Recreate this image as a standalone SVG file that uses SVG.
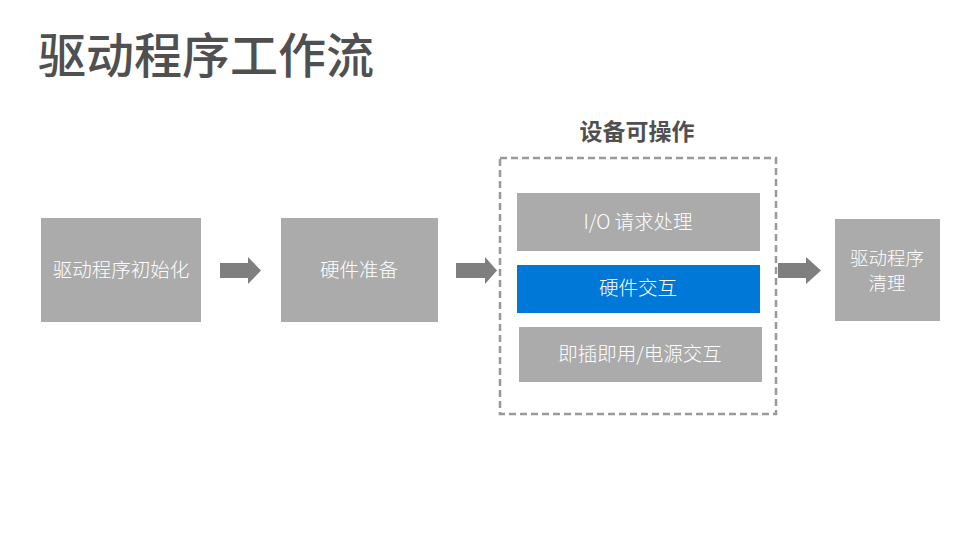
<svg xmlns="http://www.w3.org/2000/svg" width="979" height="551" viewBox="0 0 979 551">
<style>
.box{fill:#ABABAB}
.blue{fill:#0078D7}
.lbl{font-family:"Microsoft YaHei","Noto Sans CJK SC",sans-serif;font-size:19.5px;font-weight:300;fill:#FFFFFF;text-anchor:middle}
.sm{font-size:18.5px}
.arr{fill:#7F7F7F}
.title{font-family:"Noto Sans CJK SC",sans-serif;font-size:48px;font-weight:500;fill:#505050}
.sub{font-family:"Noto Sans CJK SC",sans-serif;font-size:23px;font-weight:bold;fill:#505050;text-anchor:middle}
</style>
<rect width="979" height="551" fill="#FFFFFF"/>
<text class="title" x="38" y="73">驱动程序工作流</text>
<text class="sub" x="637" y="140">设备可操作</text>
<g id="group-operable">
<rect x="500" y="158" width="276" height="256" fill="none" stroke="#999999" stroke-width="2.5" stroke-dasharray="7,4"/>
</g>
<g id="n-init"><rect class="box" x="41" y="218" width="160" height="104"/><text class="lbl" x="121" y="277">驱动程序初始化</text></g>
<g id="n-prep"><rect class="box" x="281" y="218" width="157" height="104"/><text class="lbl" x="359" y="277">硬件准备</text></g>
<g id="n-io"><rect class="box" x="517" y="193" width="243" height="58"/><text class="lbl" x="638" y="229">I/O 请求处理</text></g>
<g id="n-hw"><rect class="blue" x="517" y="265" width="243" height="48"/><text class="lbl" x="638" y="295">硬件交互</text></g>
<g id="n-pnp"><rect class="box" x="519" y="327" width="243" height="55"/><text class="lbl" x="640" y="361">即插即用/电源交互</text></g>
<g id="n-clean"><rect class="box" x="835" y="219" width="105" height="102"/><text class="lbl sm" x="887" y="265">驱动程序</text><text class="lbl sm" x="887" y="290">清理</text></g>
<g id="connectors">
<polygon class="arr" points="220,263 248,263 248,257 261,270.5 248,284 248,278 220,278"/>
<polygon class="arr" points="456,263 485,263 485,257 497,270.5 485,284 485,278 456,278"/>
<polygon class="arr" points="778,263 806,263 806,257 821,270.5 806,284 806,278 778,278"/>
</g>
</svg>
